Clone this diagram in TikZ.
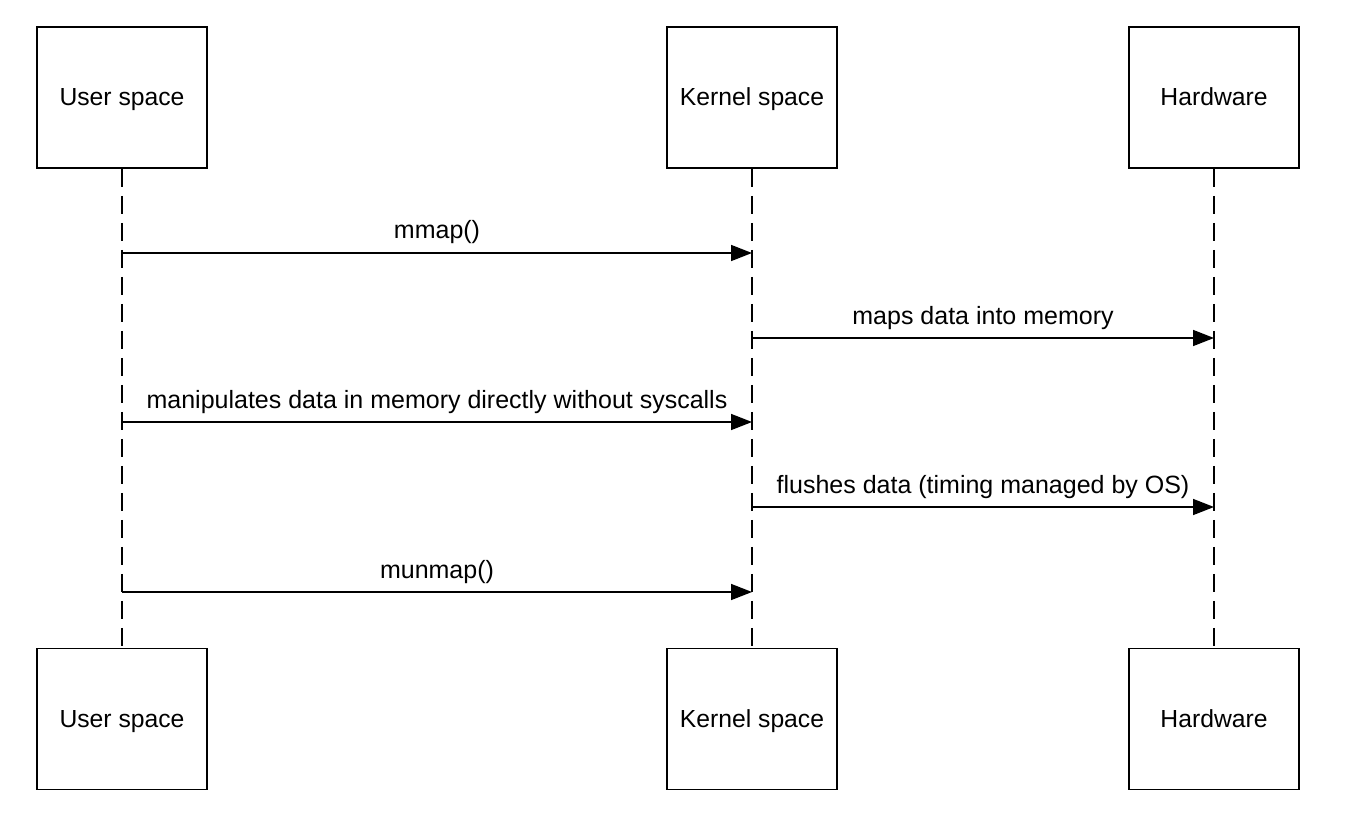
\documentclass[tikz,border=0pt]{standalone}
\usepackage{fontspec}
\setmainfont{Liberation Sans}
\usetikzlibrary{arrows.meta}
\begin{document}
\begin{tikzpicture}[x=1pt,y=-1pt,
  actor/.style={draw=black,line width=1.6pt,minimum width=170pt,minimum height=141pt,inner sep=0pt,text height=21pt,text depth=5pt,font=\fontsize{24.7}{29}\selectfont},
  life/.style={line width=1.6pt,dash pattern=on 18pt off 9pt},
  msg/.style={line width=1.6pt,-{Triangle[length=21pt,width=16pt]}},
  lbl/.style={font=\fontsize{25}{29}\selectfont,anchor=base,inner sep=0pt,yshift=14pt,midway}]
\useasboundingbox (0,0) rectangle (1348,834);
\node[actor] (u1) at (122,97.5) {User space};
\node[actor] (k1) at (752,97.5) {Kernel space};
\node[actor] (h1) at (1214,97.5) {Hardware};
\node[actor] (u2) at (122,719) {User space};
\node[actor] (k2) at (752,719) {Kernel space};
\node[actor] (h2) at (1214,719) {Hardware};
\draw[life] (u1.south) -- (u2.north);
\draw[life] (k1.south) -- (k2.north);
\draw[life] (h1.south) -- (h2.north);
\coordinate (ua) at (122,253); \coordinate (ka) at (752,253);
\coordinate (kb) at (752,338); \coordinate (hb) at (1214,338);
\coordinate (uc) at (122,422); \coordinate (kc) at (752,422);
\coordinate (kd) at (752,507); \coordinate (hd) at (1214,507);
\coordinate (ue) at (122,592); \coordinate (ke) at (752,592);
\draw[msg] (ua) -- node[lbl]{mmap()} (ka);
\draw[msg] (kb) -- node[lbl]{maps data into memory} (hb);
\draw[msg] (uc) -- node[lbl]{manipulates data in memory directly without syscalls} (kc);
\draw[msg] (kd) -- node[lbl]{flushes data (timing managed by OS)} (hd);
\draw[msg] (ue) -- node[lbl]{munmap()} (ke);
\end{tikzpicture}
\end{document}
